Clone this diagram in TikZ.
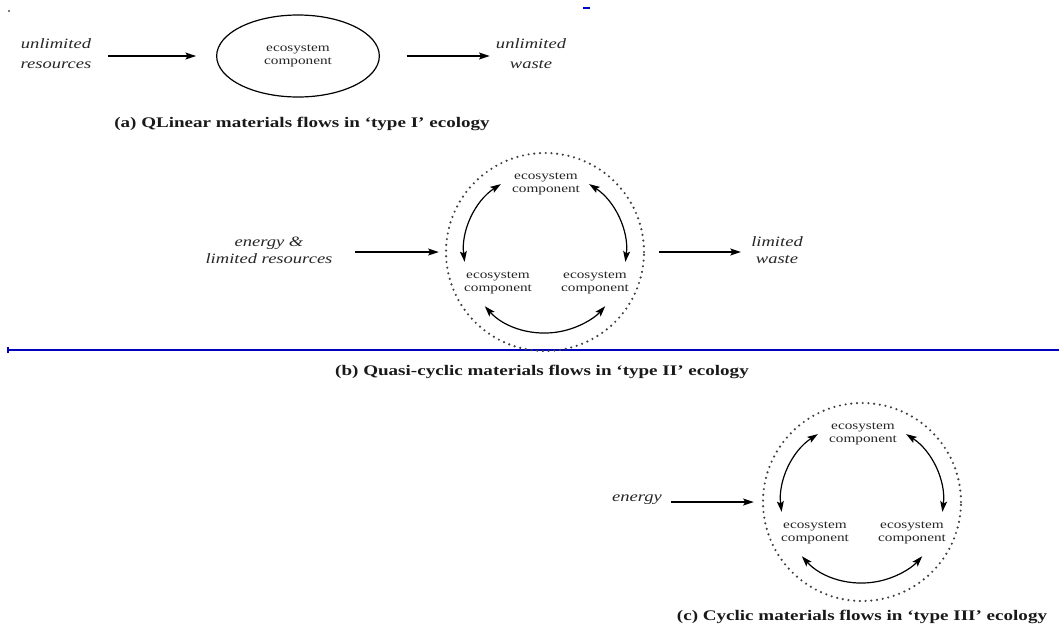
\documentclass[tikz,border=0pt]{standalone}
\usepackage{fontspec}
\setmainfont{Liberation Serif}[FakeStretch=1.3]
\usepackage{tikz}
\usetikzlibrary{calc,arrows.meta,shapes.geometric}

\tikzset{
  comp/.style={font=\fontsize{8.8}{9.75}\selectfont, align=center, text=black!85, inner sep=0pt},
  flowtxt/.style={font=\itshape\fontsize{10.7}{12.75}\selectfont, align=center, text=black!85, inner sep=0pt},
  caption/.style={font=\bfseries\fontsize{11}{13}\selectfont, text=black!90, inner sep=0pt},
  flow/.style={line width=1.1pt, -{Stealth[length=8pt,width=5.2pt,inset=1.6pt]}},
  cycarrow/.style={line width=0.9pt, {Stealth[length=8pt,width=5.2pt,inset=1.6pt]}-{Stealth[length=8pt,width=5.2pt,inset=1.6pt]}},
  ring/.style={circle, draw=black!75, minimum size=148.5pt, inner sep=0pt,
               line width=1.8pt, line cap=round, dash pattern=on 0pt off 4.3pt},
}

\begin{document}
\begin{tikzpicture}[x=0.75pt,y=0.75pt]
  \useasboundingbox (0,0) rectangle (1059,-629);
  % stray marks of the scan
  \fill[black!70] (9,-11) circle (1.2);
  \draw[blue!75!black, line width=1pt] (583,-8) -- (590,-8);
  \draw[blue!75!black, line width=0.9pt] (8,-350) -- (1059,-350) (8,-347) -- (8,-353);

  % (a) linear flows
  \node[flowtxt] (resA) at (56,-54) {unlimited\\[2.25pt]resources};
  \node[ellipse, draw, line width=0.9pt, minimum width=122pt, minimum height=61.5pt,
        comp] (eco) at (298,-56) {ecosystem\\component};
  \node[flowtxt] (wasteA) at (531,-54) {unlimited\\[2.25pt]waste};
  \draw[flow, shorten <=12pt, shorten >=15pt] (resA.east |- eco) -- (eco);
  \draw[flow, shorten <=20pt, shorten >=4.5pt] (eco) -- (wasteA.west |- eco);
  \node[caption] (capA) at (302,-124) {(a) QLinear materials flows in `type I' ecology};

  % (b) quasi-cyclic flows
  \node[ring] (ringB) at (545,-252) {};
  \node[flowtxt] (resB) at (269,-250) {energy \&\\limited resources};
  \node[flowtxt] (wasteB) at (777,-250) {limited\\waste};
  \draw[flow, shorten <=17pt, shorten >=4.5pt] (resB.east |- ringB) -- (ringB);
  \draw[flow, shorten <=10pt, shorten >=7.5pt] (ringB) -- (wasteB.west |- ringB);
  \node[caption] (capB) at (542,-372) {(b) Quasi-cyclic materials flows in `type II' ecology};

  % (c) cyclic flows
  \node[ring] (ringC) at (862,-502) {};
  \node[flowtxt] (enC) at (637,-500) {energy};
  \draw[flow, shorten <=6.75pt, shorten >=6pt] (enC.east |- ringC) -- (ringC);
  \node[caption] (capC) at (862,-617) {(c) Cyclic materials flows in `type III' ecology};

  % three components inside each ring
  \foreach \r/\c in {ringB/b,ringC/c} {
    \node[comp] (top\c) at ($(\r)+(1,68)$) {ecosystem\\component};
    \node[comp] (left\c) at ($(\r)+(-47,-31)$) {ecosystem\\component};
    \node[comp] (right\c) at ($(\r)+(50,-31)$) {ecosystem\\component};
    \draw[cycarrow] ([shift={(123:81)}]\r.center) arc[start angle=123, end angle=187, radius=81];
    \draw[cycarrow] ([shift={(57:81)}]\r.center) arc[start angle=57, end angle=-7, radius=81];
    \draw[cycarrow] ([shift={(222:81)}]\r.center) arc[start angle=222, end angle=318, radius=81];
  }
\end{tikzpicture}
\end{document}
